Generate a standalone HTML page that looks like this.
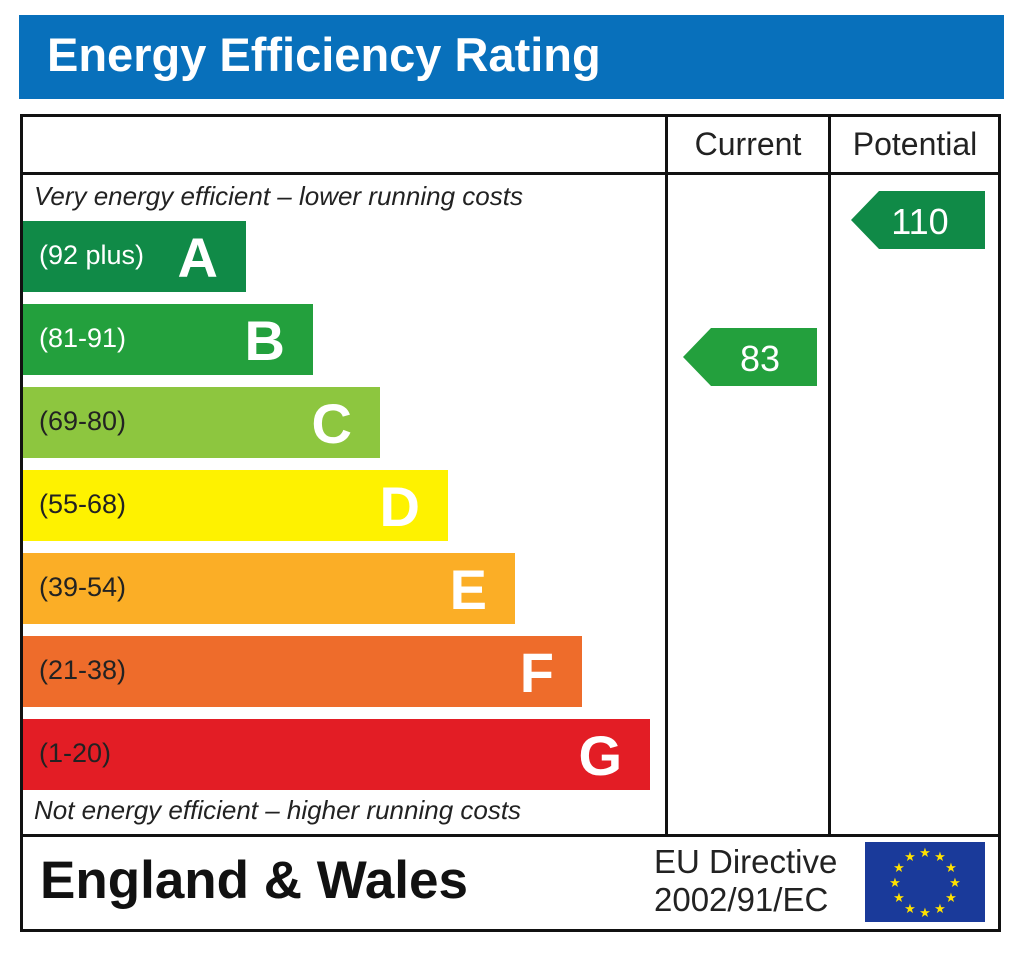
<!DOCTYPE html>
<html><head><meta charset="utf-8"><style>
body{margin:0;width:1024px;height:959px;background:#fff;font-family:"Liberation Sans",sans-serif;position:relative;overflow:hidden}
div{position:absolute;box-sizing:border-box}
.bar{left:23px;height:71px;color:#222;font-size:27px}
.bar span.r{position:absolute;left:16px;top:19px}
.bar span.l{position:absolute;right:28px;top:4px;font-size:56px;font-weight:bold;color:#fff}
.ln{background:#111}
</style></head><body>
<div style="left:19px;top:15px;width:985px;height:84px;background:#0870bb"></div>
<div style="left:47px;top:27px;color:#fff;font-size:47px;font-weight:bold">Energy Efficiency Rating</div>
<div style="left:20px;top:114px;width:981px;height:818px;border:3px solid #111"></div>
<div class="ln" style="left:20px;top:172px;width:981px;height:3px"></div>
<div class="ln" style="left:20px;top:834px;width:981px;height:3px"></div>
<div class="ln" style="left:665px;top:114px;width:3px;height:722px"></div>
<div class="ln" style="left:828px;top:114px;width:3px;height:722px"></div>
<div style="left:668px;top:126px;width:160px;text-align:center;font-size:32px;color:#222">Current</div>
<div style="left:831px;top:126px;width:168px;text-align:center;font-size:32px;color:#222">Potential</div>
<div style="left:34px;top:181px;font-size:26px;font-style:italic;color:#222">Very energy efficient – lower running costs</div>
<div style="left:34px;top:795px;font-size:26px;font-style:italic;color:#222">Not energy efficient – higher running costs</div>
<div class="bar" style="top:221px;width:223px;background:#108a47"><span class="r" style="color:#fff">(92 plus)</span><span class="l">A</span></div>
<div class="bar" style="top:304px;width:290px;background:#23a03d"><span class="r" style="color:#fff">(81-91)</span><span class="l">B</span></div>
<div class="bar" style="top:387px;width:357px;background:#8dc63f"><span class="r">(69-80)</span><span class="l">C</span></div>
<div class="bar" style="top:470px;width:425px;background:#fef200"><span class="r">(55-68)</span><span class="l">D</span></div>
<div class="bar" style="top:553px;width:492px;background:#fbae26"><span class="r">(39-54)</span><span class="l">E</span></div>
<div class="bar" style="top:636px;width:559px;background:#ee6c2b"><span class="r">(21-38)</span><span class="l">F</span></div>
<div class="bar" style="top:719px;width:627px;background:#e31d25"><span class="r">(1-20)</span><span class="l">G</span></div>
<svg style="position:absolute;left:0;top:0" width="1024" height="959">
<polygon points="683,357 711,328 817,328 817,386 711,386" fill="#23a03d"/>
<text x="760" y="371" fill="#fff" font-size="36" text-anchor="middle" font-family="Liberation Sans">83</text>
<polygon points="851,220 879,191 985,191 985,249 879,249" fill="#108a47"/>
<text x="920" y="234" fill="#fff" font-size="36" text-anchor="middle" font-family="Liberation Sans">110</text>
<rect x="865" y="842" width="120" height="80" fill="#1a3a9a"/>
<g fill="#ffe100" font-size="13" text-anchor="middle" font-family="DejaVu Sans">
<text x="925" y="857">★</text><text x="940" y="861">★</text><text x="951" y="872">★</text><text x="955" y="887">★</text><text x="951" y="902">★</text><text x="940" y="913">★</text><text x="925" y="917">★</text><text x="910" y="913">★</text><text x="899" y="902">★</text><text x="895" y="887">★</text><text x="899" y="872">★</text><text x="910" y="861">★</text>
</g>
</svg>
<div style="left:40px;top:850px;font-size:53px;font-weight:bold;color:#111">England &amp; Wales</div>
<div style="left:654px;top:843px;font-size:33px;color:#222;line-height:38px">EU Directive<br>2002/91/EC</div>
</body></html>
